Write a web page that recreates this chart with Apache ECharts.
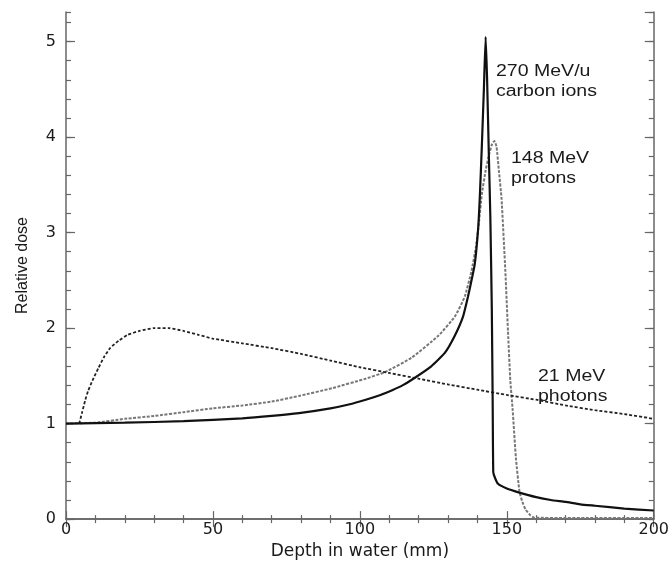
<!DOCTYPE html>
<html>
<head>
<meta charset="utf-8">
<script src="https://cdn.jsdelivr.net/npm/echarts@6/dist/echarts.min.js"></script>
<style>
  html, body { margin: 0; padding: 0; background: #fff; }
  #main { width: 672px; height: 565px; }
</style>
</head>
<body>
<div id="main"></div>
<script>
// depth (mm), relative dose
var carbonData = [
  [0, 1.0], [20, 1.01], [40, 1.025], [60, 1.055], [70, 1.08], [79.3, 1.11], [90, 1.16], [96.2, 1.2],
  [102, 1.25], [107, 1.3], [111, 1.35], [114.5, 1.4], [118.2, 1.47], [124.3, 1.6], [128.9, 1.74],
  [132.3, 1.92], [135.1, 2.12], [136.8, 2.33], [138, 2.5], [139.1, 2.67], [140.2, 3.02], [140.8, 3.36],
  [141.5, 3.9], [142.2, 4.5], [142.8, 5.05], [143.3, 4.6], [143.9, 3.8], [144.4, 3.16], [144.9, 2.2],
  [145.2, 1.2], [145.4, 0.49], [146, 0.43], [147, 0.37], [150, 0.32], [154, 0.28], [160, 0.23],
  [165, 0.2], [170, 0.18], [175, 0.155], [180, 0.14], [190, 0.11], [200, 0.09]
];
var protonData = [
  [0, 1.0], [10, 1.01], [20, 1.05], [30, 1.08], [40, 1.12], [50, 1.16], [60, 1.19], [70, 1.23],
  [79.3, 1.29], [90.5, 1.37], [101.9, 1.47], [108.6, 1.54], [117.6, 1.69], [126.7, 1.92], [132.3, 2.12],
  [135.7, 2.33], [138, 2.6], [139.5, 2.85], [140.5, 3.1], [141.5, 3.4], [142.8, 3.65], [144, 3.82],
  [145, 3.93], [145.8, 3.96], [146.5, 3.9], [147.3, 3.65], [148.2, 3.36], [149.5, 2.6], [150.5, 1.9],
  [151.2, 1.45], [152, 1.14], [153.1, 0.64], [154.3, 0.29], [155.3, 0.18], [156.4, 0.1], [158, 0.04],
  [159.4, 0.015], [170, 0.012], [200, 0.012]
];
var photonData = [
  [4.5, 1.0], [5.5, 1.12], [6.5, 1.24], [7.5, 1.34], [9, 1.45], [11, 1.58], [13, 1.7], [15, 1.79],
  [18, 1.87], [21, 1.93], [25, 1.97], [30, 2.0], [35, 2.0], [40, 1.97], [45, 1.93], [50, 1.89],
  [60, 1.84], [70, 1.79], [80, 1.73], [90, 1.66], [100, 1.59], [110, 1.53], [120, 1.47], [130, 1.41],
  [140, 1.355], [150, 1.3], [160, 1.25], [170, 1.19], [180, 1.14], [190, 1.1], [200, 1.05]
];
var seriesNames = ['270 MeV/u\ncarbon ions', '148 MeV\nprotons', '21 MeV\nphotons'];
var xMin = 0, xMax = 200, xStep = 50;
var yMin = 0, yMax = 5.31, yStep = 1, yMinorStep = 0.2;

var chart = echarts.init(document.getElementById('main'));

var axisColor = '#666';
var textColor = '#1a1a1a';

function yAxisDef(pos, step, tickLen, showLabel, showLine) {
  return {
    type: 'value', position: pos, min: yMin, max: yMax, interval: step,
    axisLine: { show: showLine, lineStyle: { color: axisColor, width: 1.5 } },
    axisTick: { show: true, inside: true, length: tickLen, lineStyle: { color: axisColor, width: 1.2 } },
    axisLabel: {
      show: showLabel, margin: 10, color: textColor, fontSize: 16, fontFamily: 'DejaVu Sans',
      showMaxLabel: false,
      formatter: function (v) { return Math.abs(v - Math.round(v)) < 1e-6 ? String(Math.round(v)) : ''; }
    },
    splitLine: { show: false }
  };
}

var option = {
  backgroundColor: '#fff',
  animation: false,
  grid: { left: 66, right: 15, top: 12, bottom: 40, containLabel: false },
  xAxis: [
    {
      type: 'value', position: 'bottom', min: xMin, max: xMax, interval: xStep,
      name: 'Depth in water (mm)', nameLocation: 'middle', nameGap: 20,
      nameTextStyle: { color: textColor, fontSize: 17, fontFamily: 'DejaVu Sans' },
      axisLine: { lineStyle: { color: axisColor, width: 1.5 } },
      axisTick: { inside: true, length: 8, lineStyle: { color: axisColor, width: 1.2 } },
      minorTick: { show: true, splitNumber: 5, length: 4, lineStyle: { color: axisColor, width: 1.2 } },
      axisLabel: { margin: 3, color: textColor, fontSize: 16, fontFamily: 'DejaVu Sans' },
      splitLine: { show: false }
    },
    {
      type: 'value', position: 'top', min: xMin, max: xMax, interval: xStep,
      axisLine: { lineStyle: { color: axisColor, width: 1.5 } },
      axisTick: { inside: true, length: 8, lineStyle: { color: axisColor, width: 1.2 } },
      minorTick: { show: true, splitNumber: 5, length: 4, lineStyle: { color: axisColor, width: 1.2 } },
      axisLabel: { show: false },
      splitLine: { show: false }
    }
  ],
  yAxis: [
    Object.assign(yAxisDef('left', yStep, 9, true, true), {
      name: 'Relative dose', nameLocation: 'middle', nameGap: 35,
      nameTextStyle: { color: textColor, fontSize: 16, fontFamily: 'Liberation Sans' }
    }),
    yAxisDef('left', yMinorStep, 5, false, false),
    yAxisDef('right', yStep, 9, false, true),
    yAxisDef('right', yMinorStep, 5, false, false)
  ],
  series: [
    {
      name: seriesNames[2], type: 'line', data: photonData, symbol: 'none', z: 3,
      smooth: 0.15,
      lineStyle: { color: '#222', width: 1.8, type: [3, 2] }
    },
    {
      name: seriesNames[1], type: 'line', data: protonData, symbol: 'none', z: 2,
      smooth: 0.15,
      lineStyle: { color: '#777', width: 2, type: [3, 1.5] }
    },
    {
      name: seriesNames[0], type: 'line', data: carbonData, symbol: 'none', z: 4,
      smooth: 0.15,
      lineStyle: { color: '#111', width: 2.2 }
    }
  ],
  graphic: [
    { type: 'text', x: 496, y: 81.5, scaleX: 1.22,
      style: { text: seriesNames[0], fill: textColor, fontSize: 16, fontFamily: 'Liberation Sans', lineHeight: 19.5, verticalAlign: 'middle' } },
    { type: 'text', x: 511, y: 168.75, scaleX: 1.22,
      style: { text: seriesNames[1], fill: textColor, fontSize: 16, fontFamily: 'Liberation Sans', lineHeight: 19.5, verticalAlign: 'middle' } },
    { type: 'text', x: 538, y: 386.75, scaleX: 1.22,
      style: { text: seriesNames[2], fill: textColor, fontSize: 16, fontFamily: 'Liberation Sans', lineHeight: 19.5, verticalAlign: 'middle' } }
  ]
};

chart.setOption(option);
</script>
</body>
</html>
